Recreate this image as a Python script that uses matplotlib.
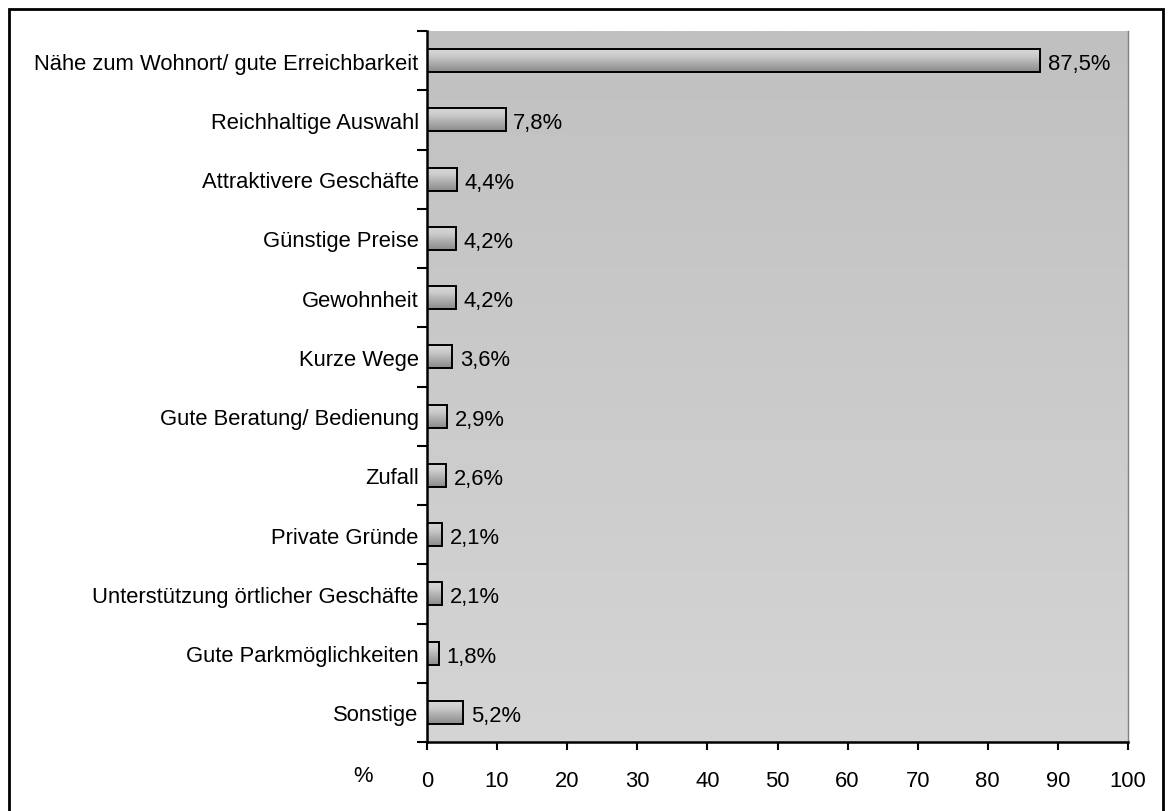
import numpy as np
import matplotlib
matplotlib.use("Agg")
import matplotlib.pyplot as plt
from matplotlib.patches import Rectangle
from matplotlib.colors import LinearSegmentedColormap

categories = ["Nähe zum Wohnort/ gute Erreichbarkeit", "Reichhaltige Auswahl",
              "Attraktivere Geschäfte", "Günstige Preise", "Gewohnheit", "Kurze Wege",
              "Gute Beratung/ Bedienung", "Zufall", "Private Gründe",
              "Unterstützung örtlicher Geschäfte", "Gute Parkmöglichkeiten", "Sonstige"]
# bar lengths as drawn in the picture
values = [87.5, 11.2, 4.3, 4.1, 4.1, 3.6, 2.9, 2.7, 2.1, 2.1, 1.7, 5.2]
# printed value labels
labels = ["87,5%", "7,8%", "4,4%", "4,2%", "4,2%", "3,6%", "2,9%", "2,6%",
          "2,1%", "2,1%", "1,8%", "5,2%"]
xticks = [0, 10, 20, 30, 40, 50, 60, 70, 80, 90, 100]

plt.rcParams['font.family'] = ['Liberation Sans', 'DejaVu Sans']
FS = 15.8

W, H = 1169, 812
fig = plt.figure(figsize=(W / 100, H / 100), dpi=100)
fig.patch.set_facecolor('white')

# figure border
fig.add_artist(Rectangle((9 / W, -0.01), (1163 - 9) / W, 1 - 10 / H + 0.01,
                         transform=fig.transFigure, fill=False,
                         edgecolor='black', linewidth=2))

ax = fig.add_axes([427 / W, 1 - 743 / H, (1128 - 427) / W, (743 - 32) / H])
n = len(categories)
ax.set_xlim(0, 100)
ax.set_ylim(n - 0.5, -0.5)

# background gradient
bg = LinearSegmentedColormap.from_list('bg', ['#d5d5d5', '#c0c0c0'])
grad = np.linspace(0, 1, 256).reshape(-1, 1)
ax.imshow(grad, cmap=bg, aspect='auto', extent=[0, 100, n - 0.5, -0.5],
          origin='lower', zorder=0)

# bars with gradient
bar_cmap = LinearSegmentedColormap.from_list(
    'bar', [(0, '#d8d8d8'), (0.3, '#cdcdcd'), (1, '#8a8a8a')])
ypos = np.arange(n)
bars = ax.barh(ypos, values, height=0.39, color='none', edgecolor='black',
               linewidth=1.4, zorder=3)
vgrad = np.linspace(0, 1, 64).reshape(-1, 1)
for b in bars:
    x0, y0 = b.get_x(), b.get_y()
    w, h = b.get_width(), b.get_height()
    im = ax.imshow(vgrad, cmap=bar_cmap, aspect='auto',
                   extent=[x0, x0 + w, y0 + h, y0], origin='upper', zorder=2)
    im.set_clip_path(b)

for y, v, lab in zip(ypos, values, labels):
    ax.text(v + 1.1, y + 0.05, lab, va='center', ha='left', fontsize=FS)

ax.set_xticks(xticks)
ax.set_xticklabels([str(t) for t in xticks], fontsize=FS)
ax.set_yticks(ypos)
ax.set_yticklabels(categories, fontsize=FS)
ax.tick_params(axis='y', length=0, pad=6)
ax.set_yticks(np.arange(n + 1) - 0.5, minor=True)
ax.tick_params(axis='y', which='minor', length=7, width=1.5, direction='out')
ax.tick_params(axis='x', length=6, width=1.5, direction='out', pad=14)

ax.spines['left'].set_linewidth(1.8)
ax.spines['bottom'].set_linewidth(1.8)
ax.spines['top'].set_visible(False)
ax.spines['right'].set_color('#808080')
ax.spines['right'].set_linewidth(1)

fig.text(363 / W, 1 - 777 / H, '%', fontsize=FS, ha='center', va='center')

fig.savefig('out.png', dpi=100)
